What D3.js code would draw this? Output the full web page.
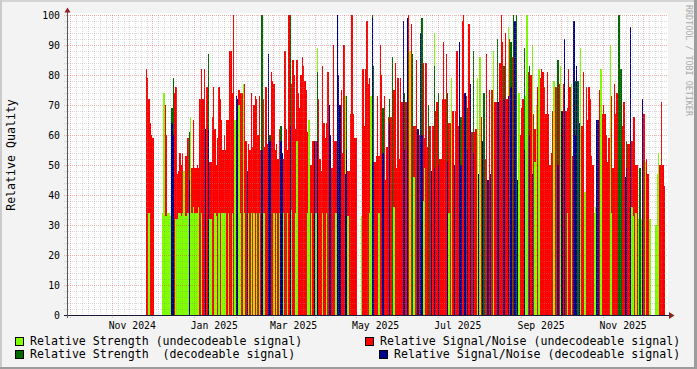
<!DOCTYPE html>
<html>
<head>
<meta charset="utf-8">
<script src="https://cdn.jsdelivr.net/npm/d3@7"></script>
<style>
  body { margin: 0; background: #f3f3f3; }
  text { font-family: "DejaVu Sans Mono", monospace; }
</style>
</head>
<body>
<div id="dataviz"></div>
<script>
// one value per day, first day 2024-11-26, 0 = no reading that day
const firstDay = "2024-11-26";

const snrUndecodeable = [
  82,79,72,64,60,59,0,0,0,0,
  0,0,0,0,70,60,0,0,0,0,
  0,74,76,47,48,54,50,54,41,53,
  53,59,0,0,49,65,49,49,50,49,
  72,82,72,82,0,76,0,51,51,66,
  76,62,50,59,76,72,65,55,60,55,
  65,65,88,88,74,100,0,0,0,75,
  74,74,0,77,58,0,57,55,74,56,
  70,73,72,60,73,55,0,72,56,76,
  57,0,0,81,78,77,55,57,52,62,
  0,0,52,88,62,55,100,0,77,85,
  80,62,85,74,69,80,86,83,78,75,
  61,55,50,50,58,0,58,0,72,52,
  48,83,64,59,64,81,0,0,49,90,
  58,58,0,0,0,75,54,90,0,0,
  48,48,67,100,67,59,59,0,0,0,
  0,82,63,82,98,77,79,64,0,0,
  51,53,73,53,90,80,0,73,45,56,
  66,0,66,0,75,84,49,79,52,79,
  71,0,0,71,0,100,0,97,0,63,
  63,85,0,60,0,0,84,59,84,56,
  0,63,0,63,0,68,71,0,52,52,
  72,91,72,87,0,64,64,0,68,0,
  68,88,63,0,0,98,100,0,73,0,
  97,0,61,0,61,62,0,0,0,66,
  0,0,52,87,0,75,0,75,0,71,
  71,0,0,84,100,91,0,94,72,0,
  92,0,86,0,0,0,0,0,60,69,
  72,0,0,0,81,0,80,0,67,62,
  0,76,0,79,82,81,76,67,81,67,
  50,54,68,0,76,76,0,77,0,0,
  77,0,68,69,82,76,0,53,0,0,
  0,0,0,0,63,81,41,76,65,76,
  72,53,50,0,0,0,0,75,0,67,
  70,67,60,51,59,0,73,49,77,67,
  74,0,0,0,63,71,0,0,57,57,
  0,58,66,66,50,50,0,0,0,0,
  67,0,52,47,0,0,0,0,0,0,
  0,0,50,71,50,43,0
];

const strengthUndecodeable = [
  0,0,34,0,0,0,0,0,0,0,
  0,0,34,74,33,33,34,34,33,0,
  0,0,32,32,34,34,33,34,48,33,
  33,34,0,66,34,36,34,34,34,36,
  0,34,0,0,0,0,0,32,32,0,
  0,34,33,0,34,0,34,34,34,34,
  0,34,0,0,34,0,65,0,0,70,
  34,0,77,34,0,0,34,0,34,0,
  34,0,34,0,34,0,0,34,34,0,
  0,0,0,0,0,34,0,34,0,34,
  0,0,34,0,0,34,0,0,35,0,
  0,34,58,0,0,0,0,0,0,0,
  34,65,0,34,0,0,34,89,0,0,
  0,34,0,0,34,0,0,0,0,0,
  0,34,0,0,0,0,0,0,73,0,
  33,0,0,0,0,0,0,0,0,0,
  33,0,0,0,0,0,34,73,0,0,
  0,0,0,34,0,0,0,0,0,0,
  0,0,0,0,36,0,0,0,0,0,
  0,0,0,0,0,0,88,0,0,46,
  0,0,0,0,0,0,38,49,0,0,
  0,0,0,0,94,0,0,0,0,0,
  0,0,0,0,0,34,0,79,0,0,
  0,0,0,0,0,0,0,0,0,0,
  0,0,0,0,0,0,79,0,86,0,
  0,0,0,0,0,0,0,0,88,0,
  0,0,0,0,0,0,0,0,0,96,
  0,0,0,0,0,0,0,74,0,0,
  0,0,73,100,0,0,0,90,0,51,
  70,0,82,0,0,0,0,0,0,0,
  0,0,0,78,0,0,0,0,83,0,
  0,0,0,34,0,0,77,0,0,0,
  0,0,0,89,0,0,41,0,0,0,
  0,0,0,34,36,0,0,0,82,0,
  0,0,0,0,0,90,34,0,0,0,
  0,0,0,0,0,0,0,0,0,0,
  0,36,33,0,34,0,32,0,32,0,
  0,51,0,0,32,32,0,0,0,30,
  47,54,0,0,0,0,0
];

const strengthDecodeable = [
  0,0,0,0,0,0,0,0,0,0,
  0,0,0,0,0,0,0,0,0,69,
  79,0,0,0,0,0,0,0,0,0,
  0,0,61,0,0,0,0,0,0,0,
  0,0,0,0,0,0,87,0,0,0,
  0,0,0,0,0,0,0,0,0,0,
  0,0,0,0,0,0,0,0,0,0,
  0,0,0,0,0,0,0,0,0,0,
  0,0,0,0,0,0,100,0,0,0,
  0,0,60,0,0,0,0,0,0,0,
  63,0,0,0,0,0,0,100,0,0,
  0,0,0,0,0,0,0,0,0,0,
  0,0,0,0,0,0,0,81,0,0,
  0,0,0,0,0,0,0,0,0,0,
  0,0,0,0,0,0,0,0,0,73,
  0,0,0,0,0,0,0,0,0,0,
  0,0,0,0,0,0,0,0,100,83,
  0,0,0,0,0,0,69,0,0,0,
  0,72,0,86,0,0,0,0,0,0,
  0,0,74,0,0,0,0,0,87,0,
  0,0,0,0,0,99,0,0,0,0,
  70,0,0,0,83,0,0,74,0,0,
  0,0,0,0,74,0,0,0,0,0,
  0,0,0,0,66,0,0,0,0,69,
  0,0,0,88,0,0,0,0,0,0,
  0,74,0,0,0,0,0,0,0,0,
  0,92,0,0,0,0,83,0,0,0,
  0,91,0,100,0,100,0,0,0,0,
  0,89,0,0,0,83,0,0,0,0,
  0,0,0,0,0,0,0,0,0,0,
  0,0,0,0,0,0,85,0,0,0,
  0,0,0,0,0,0,0,0,0,78,
  0,78,0,0,0,0,0,0,0,0,
  0,0,0,0,0,0,0,0,0,0,
  0,0,0,0,0,0,0,0,0,0,
  0,100,100,82,0,0,0,58,0,0,
  0,0,0,0,0,0,0,49,0,0,
  0,0,0,0,0,0,0,0,0,0,
  0,0,0,0,0,0,0
];

const snrDecodeable = [
  0,0,0,0,0,0,0,0,0,0,
  0,0,0,0,0,0,0,0,0,64,
  60,0,0,0,0,0,0,0,0,0,
  0,0,45,0,0,0,0,0,0,0,
  0,0,0,0,62,0,62,0,0,0,
  0,0,0,0,0,0,0,0,0,0,
  0,0,0,0,0,0,0,73,72,0,
  0,0,0,0,0,48,0,0,0,0,
  0,0,0,0,0,0,55,0,0,0,
  0,87,58,0,0,0,0,0,0,0,
  58,54,0,0,0,0,0,63,0,0,
  0,0,0,0,0,0,0,0,0,0,
  0,0,0,0,0,58,0,58,0,0,
  0,0,0,0,0,0,70,60,0,0,
  0,0,100,80,70,0,0,0,47,55,
  0,0,0,0,0,0,0,0,0,0,
  0,0,0,0,0,0,0,0,99,51,
  0,0,0,0,0,0,54,0,0,0,
  0,64,0,0,0,0,0,0,0,0,
  0,98,55,0,99,0,0,0,0,0,
  0,0,62,0,94,60,0,0,0,0,
  0,0,48,0,49,0,0,50,0,0,
  0,0,0,0,51,0,0,0,0,50,
  0,0,0,91,50,0,0,74,0,55,
  0,77,0,54,0,0,0,47,0,0,
  58,0,0,0,45,0,47,0,0,0,
  0,71,71,0,0,0,72,0,0,73,
  0,76,0,0,98,0,45,0,0,0,
  0,55,0,0,0,60,0,47,0,0,
  0,0,0,0,0,0,0,0,0,0,
  0,0,0,0,0,0,50,0,0,68,
  0,92,0,0,0,0,0,0,98,60,
  83,0,64,0,0,0,0,0,0,0,
  0,0,0,0,0,65,65,0,0,0,
  0,0,0,0,0,0,0,0,0,0,
  0,0,0,0,0,0,46,49,0,0,
  96,0,0,0,0,0,0,0,0,72,
  0,0,0,0,0,0,0,0,0,0,
  0,0,0,0,0,0,0
];

const yTicks = [0, 10, 20, 30, 40, 50, 60, 70, 80, 90, 100];
const labelMonths = ["2024-11-01", "2025-01-01", "2025-03-01", "2025-05-01", "2025-07-01", "2025-09-01", "2025-11-01"];
const legendLabels = [
  "Relative Strength (undecodeable signal)",
  "Relative Signal/Noise (undecodeable signal)",
  "Relative Strength  (decodeable signal)",
  "Relative Signal/Noise (decodeable signal)"
];

// SVG+D3 margin convention
const W = 697, H = 369;
const margin = {top: 15, right: 30, bottom: 54, left: 67},
    width = 600,
    height = 300;

const svg = d3.select("#dataviz")
  .append("svg")
    .attr("width", W)
    .attr("height", H);

// background, shades, canvas
svg.append("rect").attr("width", W).attr("height", H).attr("fill", "#f3f3f3");
svg.append("rect").attr("width", W).attr("height", 2).attr("fill", "#d4d4d4");
svg.append("rect").attr("width", 2).attr("height", H).attr("fill", "#cbcbcb");
svg.append("rect").attr("y", H - 2).attr("width", W).attr("height", 2).attr("fill", "#9c9c9c");
svg.append("rect").attr("x", W - 3).attr("width", 3).attr("height", H).attr("fill", "#9c9c9c");
svg.append("rect")
  .attr("x", margin.left).attr("y", margin.top - 2)
  .attr("width", width + 1).attr("height", height + 2)
  .attr("fill", "#ffffff");

const x = d3.scaleUtc()
  .domain([new Date(Date.UTC(2024, 8, 28, 12)), new Date(Date.UTC(2025, 11, 18, 14))])
  .range([margin.left, margin.left + width]);

const y = d3.scaleLinear()
  .domain([0, 100])
  .range([margin.top + height, margin.top]);

const day0 = d3.utcParse("%Y-%m-%d")(firstDay);
const dayX = i => Math.round(x(d3.utcDay.offset(day0, i)));

// bars, later series painted over earlier ones
const series = [
  {values: snrUndecodeable, color: "#ff0000"},
  {values: strengthUndecodeable, color: "#80ff00"},
  {values: strengthDecodeable, color: "#006a00"},
  {values: snrDecodeable, color: "#00008c"}
];

const bars = svg.append("g").attr("shape-rendering", "crispEdges");
series.forEach(s => {
  bars.append("g")
    .selectAll("rect")
    .data(s.values.map((v, i) => ({v, i})).filter(d => d.v > 0))
    .enter()
    .append("rect")
      .attr("x", d => dayX(d.i))
      .attr("width", d => Math.max(1, dayX(d.i + 1) - dayX(d.i)))
      .attr("y", d => Math.round(y(d.v)))
      .attr("height", d => Math.round(y(0)) - Math.round(y(d.v)))
      .attr("fill", s.color);
});

// grid drawn on top of the data
const grid = svg.append("g").attr("shape-rendering", "crispEdges");
const months = d3.utcMonth.range(new Date(Date.UTC(2024, 9, 1)), new Date(Date.UTC(2026, 0, 2)));
const minorTimes = [];
d3.utcMonth.range(new Date(Date.UTC(2024, 8, 1)), new Date(Date.UTC(2025, 11, 2))).forEach(m => {
  const next = d3.utcMonth.offset(m, 1);
  for (let k = 1; k < 7; k++) minorTimes.push(new Date(+m + (next - m) * k / 7));
});
const inRange = t => x(t) >= margin.left + 1 && x(t) <= margin.left + width;

const minorY = d3.range(2, 101, 2).filter(v => v % 10 !== 0);

grid.selectAll(".hminor")
  .data(minorY)
  .enter().append("line")
    .attr("x1", margin.left - 3).attr("x2", margin.left + width)
    .attr("y1", d => Math.round(y(d)) + 0.5).attr("y2", d => Math.round(y(d)) + 0.5)
    .attr("stroke", "rgba(140,140,140,0.32)")
    .attr("stroke-dasharray", "1,1");

grid.selectAll(".vminor")
  .data(minorTimes.filter(inRange))
  .enter().append("line")
    .attr("x1", d => Math.round(x(d)) + 0.5).attr("x2", d => Math.round(x(d)) + 0.5)
    .attr("y1", margin.top).attr("y2", margin.top + height + 2)
    .attr("stroke", "rgba(140,140,140,0.32)")
    .attr("stroke-dasharray", "1,1");

grid.selectAll(".hmajor")
  .data(yTicks.filter(v => v > 0))
  .enter().append("line")
    .attr("x1", margin.left - 3).attr("x2", margin.left + width)
    .attr("y1", d => Math.round(y(d)) + 0.5).attr("y2", d => Math.round(y(d)) + 0.5)
    .attr("stroke", "rgba(210,40,40,0.34)")
    .attr("stroke-dasharray", "1,1");

grid.selectAll(".vmajor")
  .data(months.filter(inRange))
  .enter().append("line")
    .attr("x1", d => Math.round(x(d)) + 0.5).attr("x2", d => Math.round(x(d)) + 0.5)
    .attr("y1", margin.top).attr("y2", margin.top + height + 3)
    .attr("stroke", "rgba(210,40,40,0.34)")
    .attr("stroke-dasharray", "1,1");

// axes with arrows
const axis = svg.append("g").attr("shape-rendering", "crispEdges");
axis.append("line")
  .attr("x1", margin.left - 3).attr("x2", margin.left + width + 4)
  .attr("y1", Math.round(y(0)) + 0.5).attr("y2", Math.round(y(0)) + 0.5)
  .attr("stroke", "#1a1a3a");
axis.append("line")
  .attr("x1", margin.left + 0.5).attr("x2", margin.left + 0.5)
  .attr("y1", y(0) + 3).attr("y2", margin.top - 4)
  .attr("stroke", "#555");
svg.append("path")
  .attr("d", `M${margin.left + width + 2},${y(0) - 3} L${margin.left + width + 7.5},${y(0) + 0.5} L${margin.left + width + 2},${y(0) + 4} Z`)
  .attr("fill", "#8a2020");
svg.append("path")
  .attr("d", `M${margin.left - 2.5},${margin.top - 2.5} L${margin.left + 0.5},${margin.top - 7.5} L${margin.left + 3.5},${margin.top - 2.5} Z`)
  .attr("fill", "#8a2020");

// tick labels
svg.append("g")
  .selectAll("text")
  .data(yTicks)
  .enter().append("text")
    .attr("x", margin.left - 7)
    .attr("y", d => y(d) + 3.5)
    .attr("text-anchor", "end")
    .attr("font-size", "9.8px")
    .attr("fill", "#000")
    .text(d => d);

svg.append("g")
  .selectAll("text")
  .data(labelMonths.map(d3.utcParse("%Y-%m-%d")))
  .enter().append("text")
    .attr("x", d => x(d3.utcDay.offset(d, 15.5)))
    .attr("y", margin.top + height + 13.5)
    .attr("text-anchor", "middle")
    .attr("font-size", "9.8px")
    .attr("fill", "#000")
    .text(d => d3.utcFormat("%b %Y")(d));

svg.append("text")
  .attr("transform", "translate(15,155) rotate(-90)")
  .attr("text-anchor", "middle")
  .attr("font-size", "11.6px")
  .attr("fill", "#000")
  .text("Relative Quality");

svg.append("text")
  .attr("transform", "translate(685.5,5) rotate(90)")
  .attr("font-size", "8.4px")
  .attr("fill", "#ababab")
  .text("RRDTOOL / TOBI OETIKER");

// legend
const legendPos = [[15, 337], [365, 337], [15, 350], [379, 350]];
const legend = svg.append("g")
  .selectAll("g")
  .data(legendLabels)
  .enter().append("g")
    .attr("transform", (d, i) => `translate(${legendPos[i][0]},${legendPos[i][1]})`);
legend.append("rect")
  .attr("x", 0.5).attr("y", 0.5).attr("width", 8).attr("height", 8)
  .attr("fill", (d, i) => [series[1], series[0], series[2], series[3]][i].color)
  .attr("stroke", "#000");
legend.append("text")
  .attr("x", 15).attr("y", 8.3)
  .attr("font-size", "11.6px")
  .attr("fill", "#000")
  .style("white-space", "pre")
  .text(d => d);
</script>
</body>
</html>
